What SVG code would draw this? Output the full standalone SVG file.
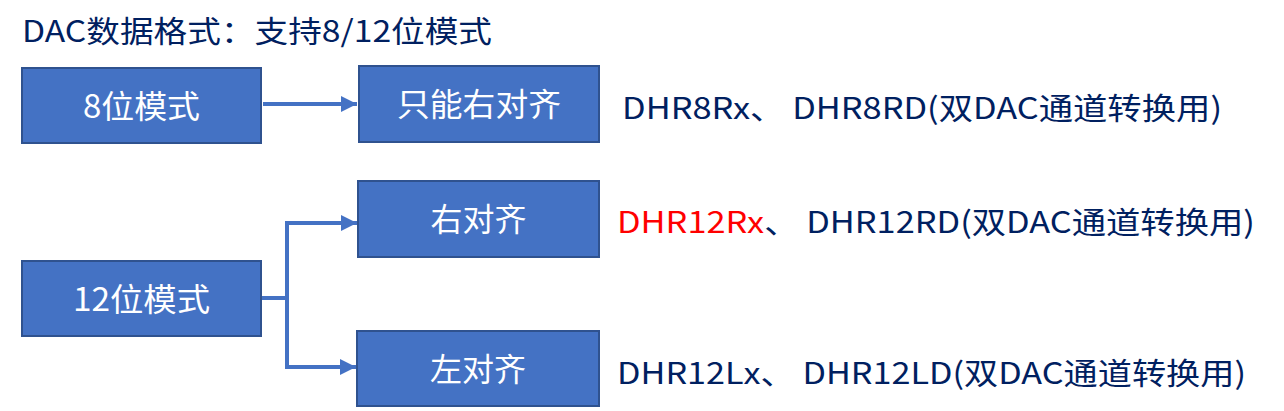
<svg xmlns="http://www.w3.org/2000/svg" width="1284" height="411" viewBox="0 0 1284 411">
<defs>
<style>
.box{fill:#4472C4;stroke:#2F528F;stroke-width:2}
.lbl{font-family:"Noto Sans CJK SC","Noto Sans",sans-serif;font-size:32px;fill:#FFFFFF;text-anchor:middle}
.txt{font-family:"Noto Sans CJK SC","Noto Sans",sans-serif;font-size:30px;fill:#002060}
.red{fill:#FF0000}
.ln{fill:none;stroke:#4472C4;stroke-width:4}
</style>
<marker id="ah" viewBox="0 0 10 10" refX="10" refY="5" markerWidth="4" markerHeight="4" markerUnits="strokeWidth" orient="auto">
<path d="M0,0 L10,5 L0,10 Z" fill="#4472C4"/>
</marker>
</defs>
<rect width="1284" height="411" fill="#FFFFFF"/>
<text id="title" class="txt" x="22" y="42" textLength="470" lengthAdjust="spacingAndGlyphs">DAC数据格式：支持8/12位模式</text>
<g id="connectors">
<path class="ln" d="M263,104 H357" marker-end="url(#ah)"/>
<path class="ln" d="M262,298 H287"/>
<path class="ln" d="M287,366 V223 H357" marker-end="url(#ah)"/>
<path class="ln" d="M287,298 V367 H356" marker-end="url(#ah)"/>
</g>
<g id="n8">
<rect class="box" x="22" y="68" width="239" height="75"/>
<text class="lbl" x="141.5" y="118" textLength="117" lengthAdjust="spacingAndGlyphs">8位模式</text>
</g>
<g id="nR8">
<rect class="box" x="359" y="66" width="240" height="76"/>
<text class="lbl" x="479" y="116" textLength="164" lengthAdjust="spacingAndGlyphs">只能右对齐</text>
</g>
<g id="n12">
<rect class="box" x="22" y="261" width="239" height="75"/>
<text class="lbl" x="141.5" y="311" textLength="137" lengthAdjust="spacingAndGlyphs">12位模式</text>
</g>
<g id="nR12">
<rect class="box" x="358" y="181" width="241" height="76"/>
<text class="lbl" x="478.5" y="231">右对齐</text>
</g>
<g id="nL12">
<rect class="box" x="357" y="331" width="242" height="75"/>
<text class="lbl" x="478" y="381">左对齐</text>
</g>
<g id="t1">
<text class="txt" x="622" y="119" textLength="600" lengthAdjust="spacingAndGlyphs">DHR8Rx、 DHR8RD(双DAC通道转换用)</text>
</g>
<g id="t2">
<text class="txt" x="617" y="233" textLength="638" lengthAdjust="spacingAndGlyphs"><tspan class="red">DHR12Rx</tspan>、 DHR12RD(双DAC通道转换用)</text>
</g>
<g id="t3">
<text class="txt" x="617" y="384" textLength="629" lengthAdjust="spacingAndGlyphs">DHR12Lx、 DHR12LD(双DAC通道转换用)</text>
</g>
</svg>
